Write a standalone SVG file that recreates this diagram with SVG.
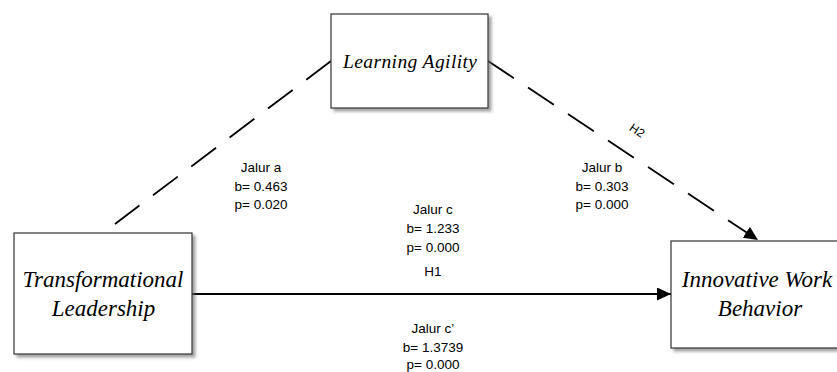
<svg xmlns="http://www.w3.org/2000/svg" width="837" height="372" viewBox="0 0 837 372">
  <style>
    .box { fill: #ffffff; stroke: #333333; stroke-width: 1.2; filter: url(#shadow); }
    .node { font-family: "Liberation Serif", "Times New Roman", serif; font-style: italic; fill: #000; text-anchor: middle; }
    .lbl { font-family: "Liberation Sans", Arial, sans-serif; font-size: 13.5px; fill: #000; text-anchor: middle; }
    .solid { stroke: #000; stroke-width: 2; fill: none; }
    .dash { stroke: #000; stroke-width: 1.8; fill: none; stroke-dasharray: 31 17; }
  </style>
  <defs>
    <filter id="shadow" x="-10%" y="-10%" width="130%" height="130%">
      <feDropShadow dx="3" dy="3" stdDeviation="1.8" flood-color="#666666" flood-opacity="0.6"/>
    </filter>
    <marker id="arrow" markerUnits="userSpaceOnUse" markerWidth="15" markerHeight="14" refX="14" refY="6.5" orient="auto">
      <path d="M0,0 L14,6.5 L0,13 Z" fill="#000"/>
    </marker>
  </defs>

  <g id="connectors">
    <line class="dash" x1="331" y1="61" x2="115" y2="224"/>
    <line class="dash" x1="488" y1="61" x2="758" y2="240" marker-end="url(#arrow)"/>
    <line class="solid" x1="192" y1="294" x2="671" y2="294" marker-end="url(#arrow)"/>
    <text class="lbl" style="font-size:12px" transform="translate(635,134) rotate(33.5)">H2</text>
    <g id="label-a">
      <text class="lbl" x="261" y="172">Jalur a</text>
      <text class="lbl" x="261" y="191">b= 0.463</text>
      <text class="lbl" x="261" y="209">p= 0.020</text>
    </g>
    <g id="label-b">
      <text class="lbl" x="602" y="172">Jalur b</text>
      <text class="lbl" x="602" y="191">b= 0.303</text>
      <text class="lbl" x="602" y="209">p= 0.000</text>
    </g>
    <g id="label-c">
      <text class="lbl" x="433" y="214">Jalur c</text>
      <text class="lbl" x="433" y="233">b= 1.233</text>
      <text class="lbl" x="433" y="252">p= 0.000</text>
      <text class="lbl" x="433" y="276">H1</text>
    </g>
    <g id="label-c-prime">
      <text class="lbl" x="433" y="333">Jalur c’</text>
      <text class="lbl" x="433" y="352">b= 1.3739</text>
      <text class="lbl" x="433" y="369">p= 0.000</text>
    </g>
  </g>

  <g id="node-learning-agility">
    <rect class="box" x="331" y="14" width="157" height="94"/>
    <text class="node" x="410" y="68" style="font-size:19.5px" textLength="134" lengthAdjust="spacing">Learning Agility</text>
  </g>

  <g id="node-transformational-leadership">
    <rect class="box" x="14" y="233" width="178" height="121"/>
    <text class="node" x="103" y="287" style="font-size:23px">Transformational</text>
    <text class="node" x="103.5" y="316" style="font-size:23px">Leadership</text>
  </g>

  <g id="node-innovative-work-behavior">
    <rect class="box" x="671" y="241" width="180" height="107"/>
    <text class="node" x="757" y="287" style="font-size:23px">Innovative Work</text>
    <text class="node" x="760" y="316" style="font-size:23px">Behavior</text>
  </g>
</svg>
